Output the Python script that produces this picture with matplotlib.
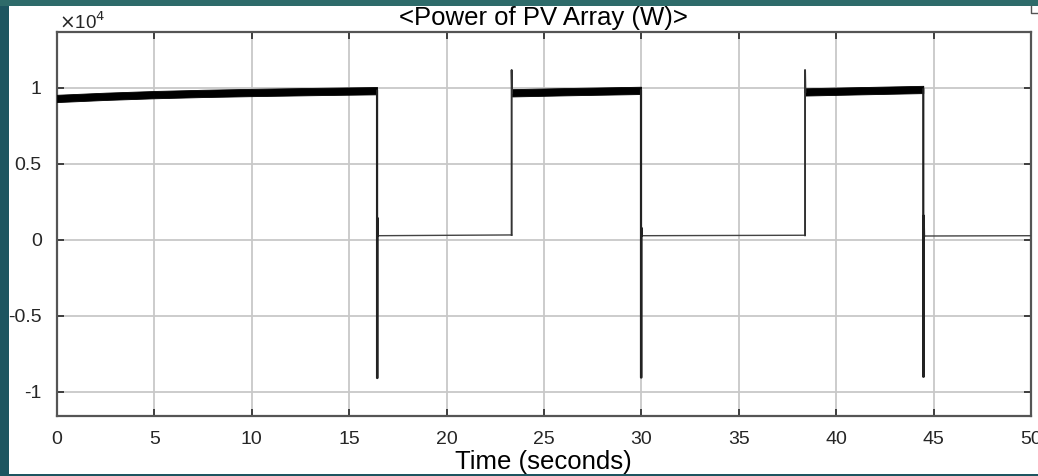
import matplotlib
matplotlib.use("Agg")
import matplotlib.pyplot as plt
import numpy as np
from matplotlib.patches import Rectangle

plt.rcParams['font.family'] = ['Liberation Sans', 'DejaVu Sans']

# ---- data (power in units of 1e4 W) ----
on1_t = [0.0, 2.5, 5.0, 7.5, 10.0, 13.0, 16.43]
on1_p = [0.931, 0.945, 0.956, 0.964, 0.970, 0.976, 0.982]
on2_t = [23.36, 26.0, 29.98]
on2_p = [0.968, 0.975, 0.984]
on3_t = [38.42, 41.0, 44.47]
on3_p = [0.974, 0.981, 0.990]
ripple = 0.024

off_t = [[16.47, 23.34], [30.02, 38.40], [44.51, 50.0]]
off_p = [[0.028, 0.033], [0.028, 0.031], [0.026, 0.028]]

drop_t = [16.43, 29.98, 44.47]
drop_min = [-0.908, -0.905, -0.900]
drop_rebound = [0.145, 0.08, 0.16]
rise_t = [23.34, 38.40]
rise_peak = [1.118, 1.118]

xticks = [0, 5, 10, 15, 20, 25, 30, 35, 40, 45, 50]
yticks = [-1, -0.5, 0, 0.5, 1]
ytick_labels = ['-1', '-0.5', '0', '0.5', '1']

W, H = 1038, 476
fig = plt.figure(figsize=(W / 100, H / 100), dpi=100, facecolor='#1d5560')

# background panel (white slide area with teal strip on top)
bg = fig.add_axes([0, 0, 1, 1], zorder=-5)
bg.set_xlim(0, W); bg.set_ylim(H, 0); bg.axis('off')
bg.add_patch(Rectangle((0, 0), W, H, facecolor='#1d5560', edgecolor='none'))
bg.add_patch(Rectangle((0, 0), W, 6, facecolor='#2e6b6a', edgecolor='none'))
bg.add_patch(Rectangle((9, 6), W - 9, 468, facecolor='white', edgecolor='none'))
bg.plot([1031, 1031, 1038], [6, 13, 13], color='#555555', lw=1.0)

ax = fig.add_axes([57 / W, (H - 416) / H, (1031 - 57) / W, (416 - 32) / H], zorder=2)
ax.set_facecolor('white')

# thick rippled "on" bands
for t, p in [(on1_t, on1_p), (on2_t, on2_p), (on3_t, on3_p)]:
    t = np.array(t); p = np.array(p)
    ax.fill_between(t, p - ripple, p + ripple, color='black', lw=0.6, zorder=3)

# "off" levels
for t, p in zip(off_t, off_p):
    ax.plot(t, p, color='#444444', lw=1.0, zorder=3)

# switch-off transitions
on_end = [on1_p[-1], on2_p[-1], on3_p[-1]]
for i, (t, mn, rb) in enumerate(zip(drop_t, drop_min, drop_rebound)):
    ax.plot([t, t, t + 0.02, t + 0.02, off_t[i][0]],
            [on_end[i], mn, mn, rb, off_p[i][0]], color='#222222', lw=1.6, zorder=4)

# switch-on transitions
on_start = [on2_p[0], on3_p[0]]
for i, (t, pk) in enumerate(zip(rise_t, rise_peak)):
    ax.plot([t, t, t + 0.02], [off_p[i][1], pk, on_start[i]],
            color='#333333', lw=1.4, zorder=4)

ax.set_xlim(0, 50)
ax.set_ylim(-1.158, 1.368)
ax.set_xticks(xticks)
ax.set_xticklabels([str(x) for x in xticks])
ax.set_yticks(yticks)
ax.set_yticklabels(ytick_labels)
ax.grid(True, color='#c8c8c8', lw=1.3, zorder=1)
ax.set_axisbelow(True)
ax.tick_params(direction='in', length=5, width=1.3, color='#333333',
               top=True, right=True, labelsize=14, labelcolor='#262626', pad=11)
for s in ax.spines.values():
    s.set_color('#555555')
    s.set_linewidth(1.6)

fig.text(59 / W, (H - 22) / H, r'$\times$10$^{4}$', fontsize=13.5, color='#262626',
         ha='left', va='center')
fig.text(543 / W, (H - 18) / H, '<Power of PV Array (W)>', fontsize=18.5,
         color='black', ha='center', va='center')
fig.text(543 / W, (H - 462) / H, 'Time (seconds)', fontsize=18.5,
         color='black', ha='center', va='center')

fig.savefig('out.png', dpi=100, facecolor=fig.get_facecolor())
